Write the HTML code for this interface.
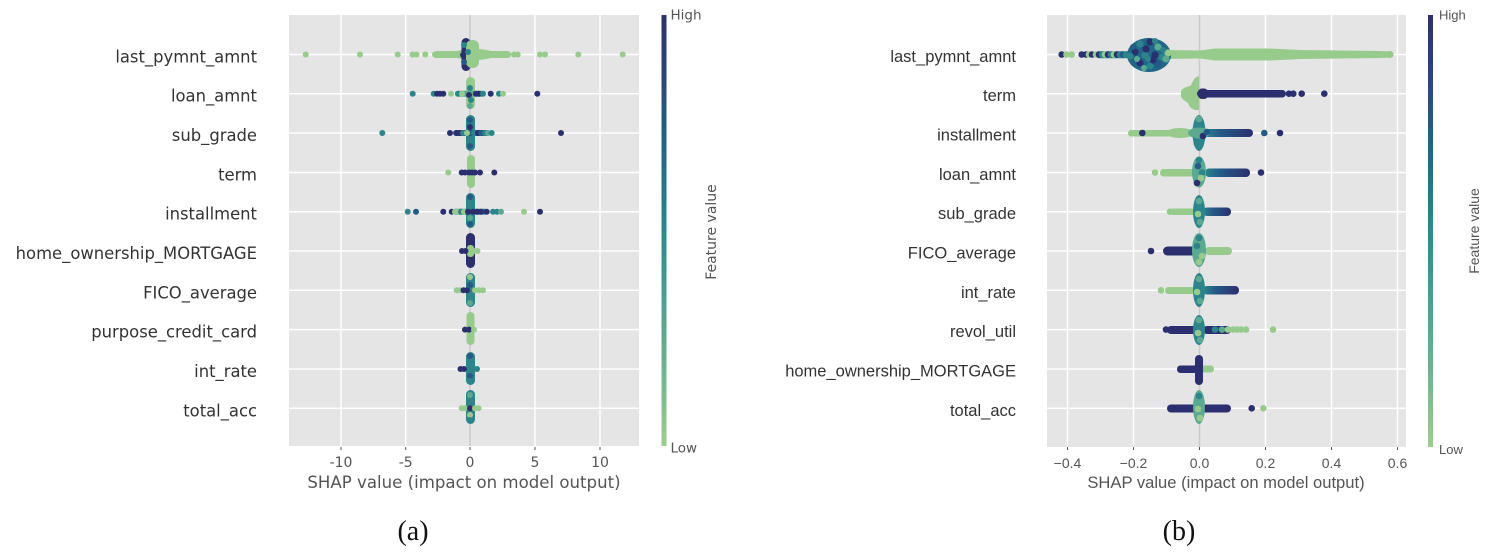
<!DOCTYPE html>
<html><head><meta charset="utf-8"><style>
html,body{margin:0;padding:0;background:#fff;}
svg{display:block;}
.yl{font-family:"DejaVu Sans",sans-serif;font-size:16.4px;fill:#333;text-anchor:end;}
.yr{font-family:"Liberation Sans",sans-serif;font-size:16.5px;fill:#333;text-anchor:end;}
.tl{font-family:"DejaVu Sans",sans-serif;font-size:14px;fill:#555;text-anchor:middle;}
.tr{font-family:"Liberation Sans",sans-serif;font-size:14px;fill:#555;text-anchor:middle;}
.cap{font-family:"Liberation Serif",serif;font-size:28px;fill:#111;text-anchor:middle;}
</style></head><body>
<svg width="1497" height="556" viewBox="0 0 1497 556" xmlns="http://www.w3.org/2000/svg">
<defs>
<linearGradient id="cb" x1="0" y1="0" x2="0" y2="1">
<stop offset="0" stop-color="#2c2f70"/><stop offset="0.15" stop-color="#2a4682"/><stop offset="0.31" stop-color="#1f6687"/><stop offset="0.5" stop-color="#2a8a8c"/><stop offset="0.66" stop-color="#4ba090"/><stop offset="0.85" stop-color="#73b88e"/><stop offset="1" stop-color="#9ccf8b"/>
</linearGradient>
<linearGradient id="bn" x1="0" y1="0" x2="1" y2="0"><stop offset="0" stop-color="#2b868c"/><stop offset="0.35" stop-color="#245a87"/><stop offset="1" stop-color="#2b2f6f"/></linearGradient>
</defs>
<rect width="1497" height="556" fill="#fff"/>

<!-- LEFT PLOT -->
<rect x="289" y="15" width="350" height="431" fill="#e5e5e5"/>
<g stroke="#fff" stroke-width="1.5">
<line x1="341" y1="15" x2="341" y2="446"/><line x1="405.7" y1="15" x2="405.7" y2="446"/><line x1="535" y1="15" x2="535" y2="446"/><line x1="600" y1="15" x2="600" y2="446"/>
<line x1="289" y1="54.5" x2="639" y2="54.5"/><line x1="289" y1="93.7" x2="639" y2="93.7"/><line x1="289" y1="133" x2="639" y2="133"/><line x1="289" y1="172.5" x2="639" y2="172.5"/><line x1="289" y1="211.7" x2="639" y2="211.7"/><line x1="289" y1="251" x2="639" y2="251"/><line x1="289" y1="290.3" x2="639" y2="290.3"/><line x1="289" y1="329.6" x2="639" y2="329.6"/><line x1="289" y1="369" x2="639" y2="369"/><line x1="289" y1="408.3" x2="639" y2="408.3"/>
</g>
<line x1="470" y1="15" x2="470" y2="446" stroke="#cbcbcb" stroke-width="1.6"/>
<g stroke="#555" stroke-width="1"><line x1="341" y1="447" x2="341" y2="450"/><line x1="405.7" y1="447" x2="405.7" y2="450"/><line x1="470" y1="447" x2="470" y2="450"/><line x1="535" y1="447" x2="535" y2="450"/><line x1="600" y1="447" x2="600" y2="450"/></g>

<!-- row1 -->
<rect x="433" y="51" width="78" height="7" rx="3.5" fill="#96cb8c"/>
<ellipse cx="474" cy="54.5" rx="22" ry="5.5" fill="#96cb8c"/>
<rect x="461.5" y="38" width="9" height="33" rx="4.5" fill="#2b2f6f"/>
<rect x="466" y="40" width="13" height="28" rx="6" fill="#96cb8c"/>
<circle cx="464" cy="45" r="3" fill="#2b868c"/><circle cx="464" cy="62" r="3" fill="#245a87"/><circle cx="468" cy="52" r="3" fill="#2b868c"/><circle cx="463" cy="55" r="3" fill="#2b2f6f"/>
<g fill="#96cb8c">
<circle cx="305.7" cy="54.5" r="3"/><circle cx="360" cy="54.5" r="3"/><circle cx="397.7" cy="54.5" r="3"/><circle cx="412.5" cy="54.5" r="3"/><circle cx="416.5" cy="54.5" r="3"/><circle cx="425.3" cy="54.5" r="3"/><circle cx="435" cy="54.5" r="3"/><circle cx="514" cy="54.5" r="3"/><circle cx="517.7" cy="54.5" r="3"/><circle cx="540" cy="54.5" r="3"/><circle cx="545" cy="54.5" r="3"/><circle cx="578.3" cy="54.5" r="3"/><circle cx="622.7" cy="54.5" r="3"/>
</g>
<!-- row2 -->
<rect x="466" y="77" width="9" height="32" rx="4.5" fill="#96cb8c"/>
<rect x="455" y="90.7" width="30" height="6" rx="3" fill="#5aa990"/>
<circle cx="470" cy="88" r="3" fill="#2b868c"/><circle cx="469" cy="95" r="3" fill="#2b2f6f"/><circle cx="471" cy="100" r="3" fill="#2b868c"/><circle cx="470" cy="106" r="3" fill="#5aa990"/>
<circle cx="412.7" cy="93.7" r="3" fill="#2b868c"/><circle cx="433.7" cy="93.7" r="3" fill="#2b868c"/><circle cx="437" cy="93.7" r="3" fill="#2b2f6f"/><circle cx="440" cy="93.7" r="3" fill="#2b2f6f"/><circle cx="443.3" cy="93.7" r="3" fill="#2b2f6f"/><circle cx="451" cy="93.7" r="3" fill="#96cb8c"/><circle cx="458" cy="93.7" r="3" fill="#2b868c"/><circle cx="462" cy="93.7" r="3" fill="#96cb8c"/><circle cx="476" cy="93.7" r="3" fill="#2b2f6f"/><circle cx="479" cy="93.7" r="3" fill="#2b2f6f"/><circle cx="483" cy="93.7" r="3" fill="#2b868c"/><circle cx="490.7" cy="93.7" r="3" fill="#2b2f6f"/><circle cx="499" cy="93.7" r="3" fill="#2b868c"/><circle cx="503" cy="93.7" r="3" fill="#96cb8c"/><circle cx="537.3" cy="93.7" r="3" fill="#2b2f6f"/>
<!-- row3 -->
<rect x="466" y="115" width="9" height="36" rx="4.5" fill="#2b868c"/>
<rect x="453" y="130" width="36" height="6" rx="3" fill="#245a87"/>
<circle cx="470" cy="120" r="3" fill="#245a87"/><circle cx="470" cy="127" r="3" fill="#2b2f6f"/><circle cx="470" cy="140" r="3" fill="#2b868c"/><circle cx="470" cy="146" r="3" fill="#245a87"/>
<circle cx="456.7" cy="133" r="3" fill="#2b2f6f"/><circle cx="460" cy="133" r="3" fill="#2b2f6f"/><circle cx="463" cy="133" r="3" fill="#2b868c"/><circle cx="467" cy="133" r="3" fill="#96cb8c"/><circle cx="474" cy="133" r="3" fill="#2b868c"/><circle cx="478" cy="133" r="3" fill="#2b2f6f"/><circle cx="481" cy="133" r="3" fill="#245a87"/><circle cx="485" cy="133" r="3" fill="#2b868c"/><circle cx="488" cy="133" r="3" fill="#5aa990"/>
<circle cx="382.3" cy="133" r="3" fill="#2b868c"/><circle cx="450" cy="133" r="3" fill="#2b2f6f"/><circle cx="491.7" cy="133" r="3" fill="#2b868c"/><circle cx="561" cy="133" r="3" fill="#2b2f6f"/>
<!-- row4 -->
<rect x="467" y="155" width="8" height="33" rx="4" fill="#96cb8c"/>
<circle cx="448.3" cy="172.5" r="3" fill="#96cb8c"/><circle cx="461.7" cy="172.5" r="3" fill="#2b2f6f"/><circle cx="465" cy="172.5" r="3" fill="#2b2f6f"/><circle cx="469" cy="172.5" r="3" fill="#2b2f6f"/><circle cx="472" cy="172.5" r="3" fill="#2b2f6f"/><circle cx="475" cy="172.5" r="3" fill="#2b2f6f"/><circle cx="480" cy="172.5" r="3" fill="#2b2f6f"/><circle cx="494.3" cy="172.5" r="3" fill="#2b2f6f"/>
<!-- row5 -->
<rect x="466" y="193" width="9" height="35" rx="4.5" fill="#2b868c"/>
<rect x="452" y="208.7" width="36" height="6" rx="3" fill="#2b868c"/>
<circle cx="470" cy="197" r="3" fill="#245a87"/><circle cx="470" cy="205" r="3" fill="#2b868c"/><circle cx="470" cy="218" r="3" fill="#5aa990"/><circle cx="470" cy="224" r="3" fill="#245a87"/>
<circle cx="407.7" cy="211.7" r="3" fill="#2b868c"/><circle cx="416" cy="211.7" r="3" fill="#245a87"/><circle cx="443.3" cy="211.7" r="3" fill="#2b2f6f"/><circle cx="451.7" cy="211.7" r="3" fill="#2b2f6f"/><circle cx="455" cy="211.7" r="3" fill="#96cb8c"/><circle cx="458" cy="211.7" r="3" fill="#96cb8c"/><circle cx="461" cy="211.7" r="3" fill="#2b868c"/><circle cx="464" cy="211.7" r="3" fill="#96cb8c"/><circle cx="468" cy="211.7" r="3" fill="#2b2f6f"/><circle cx="473" cy="211.7" r="3" fill="#2b2f6f"/><circle cx="477" cy="211.7" r="3" fill="#2b2f6f"/><circle cx="481" cy="211.7" r="3" fill="#2b2f6f"/><circle cx="486.7" cy="211.7" r="3" fill="#2b2f6f"/><circle cx="493" cy="211.7" r="3" fill="#2b868c"/><circle cx="497" cy="211.7" r="3" fill="#2b868c"/><circle cx="501" cy="211.7" r="3" fill="#5aa990"/><circle cx="524" cy="211.7" r="3" fill="#96cb8c"/><circle cx="540" cy="211.7" r="3" fill="#2b2f6f"/>
<!-- row6 -->
<rect x="466" y="233" width="9" height="35" rx="4.5" fill="#2b2f6f"/>
<rect x="467" y="245" width="7" height="12" rx="3" fill="#96cb8c"/>
<circle cx="462" cy="251" r="3" fill="#2b2f6f"/><circle cx="465.5" cy="251" r="3" fill="#2b2f6f"/><circle cx="474" cy="251" r="3" fill="#96cb8c"/><circle cx="477.5" cy="251" r="3" fill="#96cb8c"/>
<!-- row7 -->
<rect x="466" y="273" width="9" height="34" rx="4.5" fill="#2b868c"/>
<circle cx="470" cy="277" r="3" fill="#96cb8c"/><circle cx="470" cy="285" r="3" fill="#245a87"/><circle cx="470" cy="298" r="3" fill="#2b868c"/><circle cx="470" cy="303" r="3" fill="#5aa990"/>
<circle cx="456.7" cy="290.3" r="3" fill="#96cb8c"/><circle cx="460" cy="290.3" r="3" fill="#96cb8c"/><circle cx="463.5" cy="290.3" r="3" fill="#2b2f6f"/><circle cx="467" cy="290.3" r="3" fill="#2b2f6f"/><circle cx="475" cy="290.3" r="3" fill="#96cb8c"/><circle cx="479" cy="290.3" r="3" fill="#96cb8c"/><circle cx="483" cy="290.3" r="3" fill="#96cb8c"/>
<!-- row8 -->
<rect x="466.5" y="312" width="8" height="33" rx="4" fill="#96cb8c"/>
<circle cx="465" cy="329.6" r="3" fill="#2b2f6f"/><circle cx="469" cy="329.6" r="3" fill="#2b2f6f"/><circle cx="474" cy="329.6" r="3" fill="#96cb8c"/>
<!-- row9 -->
<rect x="466" y="352" width="9" height="33" rx="4.5" fill="#2b868c"/>
<circle cx="470" cy="356" r="3" fill="#245a87"/><circle cx="470" cy="364" r="3" fill="#2b868c"/><circle cx="470" cy="376" r="3" fill="#245a87"/><circle cx="470" cy="381" r="3" fill="#2b868c"/>
<circle cx="460.5" cy="369" r="3" fill="#2b2f6f"/><circle cx="464" cy="369" r="3" fill="#2b2f6f"/><circle cx="474" cy="369" r="3" fill="#2b868c"/><circle cx="477" cy="369" r="3" fill="#2b868c"/>
<!-- row10 -->
<rect x="466" y="390" width="9" height="34" rx="4.5" fill="#2b868c"/>
<circle cx="470" cy="395" r="3" fill="#5aa990"/><circle cx="470" cy="402" r="3" fill="#2b868c"/><circle cx="470" cy="415" r="3" fill="#96cb8c"/><circle cx="470" cy="420" r="3" fill="#2b868c"/>
<circle cx="461.7" cy="408.3" r="3" fill="#96cb8c"/><circle cx="465" cy="408.3" r="3" fill="#96cb8c"/><circle cx="470" cy="408.3" r="3" fill="#2b2f6f"/><circle cx="475" cy="408.3" r="3" fill="#96cb8c"/><circle cx="478.5" cy="408.3" r="3" fill="#96cb8c"/>

<!-- left labels -->
<text class="yl" x="257" y="62.5">last_pymnt_amnt</text>
<text class="yl" x="257" y="101.7">loan_amnt</text>
<text class="yl" x="257" y="141">sub_grade</text>
<text class="yl" x="257" y="180.5">term</text>
<text class="yl" x="257" y="219.7">installment</text>
<text class="yl" x="257" y="259">home_ownership_MORTGAGE</text>
<text class="yl" x="257" y="298.3">FICO_average</text>
<text class="yl" x="257" y="337.6">purpose_credit_card</text>
<text class="yl" x="257" y="377">int_rate</text>
<text class="yl" x="257" y="416.3">total_acc</text>
<text class="tl" x="341" y="467">-10</text><text class="tl" x="405.7" y="467">-5</text><text class="tl" x="470" y="467">0</text><text class="tl" x="535" y="467">5</text><text class="tl" x="600" y="467">10</text>
<text x="464" y="488" style="font-family:'DejaVu Sans',sans-serif;font-size:16.6px;fill:#555;text-anchor:middle">SHAP value (impact on model output)</text>
<rect x="661.5" y="15" width="5" height="431" fill="url(#cb)"/>
<text x="670.5" y="19.5" style="font-family:'DejaVu Sans',sans-serif;font-size:13.5px;fill:#555">High</text>
<text x="670.5" y="452.5" style="font-family:'DejaVu Sans',sans-serif;font-size:13.5px;fill:#555">Low</text>
<text transform="translate(716,232) rotate(-90)" style="font-family:'DejaVu Sans',sans-serif;font-size:14px;fill:#555;text-anchor:middle">Feature value</text>
<text class="cap" x="413" y="540">(a)</text>

<!-- RIGHT PLOT -->
<rect x="1047" y="15" width="359" height="432" fill="#e5e5e5"/>
<g stroke="#fff" stroke-width="1.5">
<line x1="1067.5" y1="15" x2="1067.5" y2="447"/><line x1="1133.5" y1="15" x2="1133.5" y2="447"/><line x1="1265.5" y1="15" x2="1265.5" y2="447"/><line x1="1331.5" y1="15" x2="1331.5" y2="447"/><line x1="1397.5" y1="15" x2="1397.5" y2="447"/>
<line x1="1047" y1="54.5" x2="1406" y2="54.5"/><line x1="1047" y1="93.7" x2="1406" y2="93.7"/><line x1="1047" y1="133" x2="1406" y2="133"/><line x1="1047" y1="172.5" x2="1406" y2="172.5"/><line x1="1047" y1="211.7" x2="1406" y2="211.7"/><line x1="1047" y1="251" x2="1406" y2="251"/><line x1="1047" y1="290.3" x2="1406" y2="290.3"/><line x1="1047" y1="329.6" x2="1406" y2="329.6"/><line x1="1047" y1="369" x2="1406" y2="369"/><line x1="1047" y1="408.3" x2="1406" y2="408.3"/>
</g>
<line x1="1199.5" y1="15" x2="1199.5" y2="447" stroke="#cbcbcb" stroke-width="1.6"/>
<g stroke="#555" stroke-width="1"><line x1="1067.5" y1="447" x2="1067.5" y2="450"/><line x1="1133.5" y1="447" x2="1133.5" y2="450"/><line x1="1199.5" y1="447" x2="1199.5" y2="450"/><line x1="1265.5" y1="447" x2="1265.5" y2="450"/><line x1="1331.5" y1="447" x2="1331.5" y2="450"/><line x1="1397.5" y1="447" x2="1397.5" y2="450"/></g>

<!-- r row1 -->
<path d="M1163,50 L1200,50.5 L1215,48.5 L1270,48.5 L1300,50 L1380,51 L1392,51.5 L1392,57.5 L1380,58 L1300,59 L1270,60.5 L1215,60.5 L1200,58.5 L1163,59 Z" fill="#96cb8c"/>
<circle cx="1390" cy="54.5" r="3.6" fill="#96cb8c"/>
<rect x="1095" y="51.2" width="36" height="7" rx="3.5" fill="#2b868c"/>
<circle cx="1061.7" cy="54.5" r="3.3" fill="#2b2f6f"/><circle cx="1066.5" cy="54.5" r="3.3" fill="#96cb8c"/><circle cx="1071.7" cy="54.5" r="3.3" fill="#96cb8c"/><circle cx="1081.7" cy="54.5" r="3.3" fill="#2b2f6f"/><circle cx="1086" cy="54.5" r="3.3" fill="#2b2f6f"/><circle cx="1089" cy="54.5" r="3.3" fill="#96cb8c"/><circle cx="1092" cy="54.5" r="3.3" fill="#2b2f6f"/><circle cx="1096" cy="54.5" r="3.3" fill="#96cb8c"/><circle cx="1099" cy="54.5" r="3.3" fill="#2b2f6f"/><circle cx="1102" cy="54.5" r="3.3" fill="#2b868c"/><circle cx="1105" cy="54.5" r="3.3" fill="#96cb8c"/><circle cx="1108" cy="54.5" r="3.3" fill="#2b2f6f"/><circle cx="1111" cy="54.5" r="3.3" fill="#2b868c"/><circle cx="1114" cy="54.5" r="3.3" fill="#96cb8c"/><circle cx="1117" cy="54.5" r="3.3" fill="#2b2f6f"/><circle cx="1120" cy="54.5" r="3.3" fill="#2b868c"/><circle cx="1123" cy="54.5" r="3.3" fill="#245a87"/><circle cx="1126" cy="54.5" r="3.3" fill="#2b868c"/>
<ellipse cx="1149" cy="55" rx="22" ry="17" fill="#1f6687"/>
<circle cx="1140" cy="44" r="3.6" fill="#2b868c"/><circle cx="1150" cy="42" r="3.6" fill="#2b2f6f"/><circle cx="1158" cy="47" r="3.6" fill="#5aa990"/><circle cx="1135" cy="52" r="3.6" fill="#2b2f6f"/><circle cx="1145" cy="55" r="3.6" fill="#2b868c"/><circle cx="1155" cy="55" r="3.6" fill="#2b2f6f"/><circle cx="1162" cy="57" r="3.6" fill="#2b868c"/><circle cx="1140" cy="63" r="3.6" fill="#2b2f6f"/><circle cx="1150" cy="66" r="3.6" fill="#2b868c"/><circle cx="1158" cy="64" r="3.6" fill="#245a87"/><circle cx="1130" cy="56" r="3.6" fill="#2b868c"/><circle cx="1146" cy="49" r="3.6" fill="#2b2f6f"/><circle cx="1153" cy="60" r="3.6" fill="#2b2f6f"/><circle cx="1168" cy="53" r="3.6" fill="#96cb8c"/><circle cx="1166" cy="59" r="3.6" fill="#5aa990"/>
<circle cx="1137" cy="59" r="3" fill="#5aa990"/><circle cx="1155" cy="41" r="3" fill="#2b868c"/><circle cx="1144" cy="68" r="3" fill="#5aa990"/><circle cx="1163" cy="50" r="3" fill="#2b868c"/><circle cx="1148" cy="59" r="3" fill="#2b868c"/><circle cx="1133" cy="47" r="3" fill="#245a87"/>
<!-- r row2 -->
<path d="M1199,76 C1192,78 1193,84 1190,86 C1184,87 1180,90 1181,94 C1180,99 1186,101 1188,103 C1189,107 1193,111 1199,110 Z" fill="#96cb8c"/>
<rect x="1197" y="90" width="89" height="7.5" rx="3.7" fill="#2b2f6f"/>
<rect x="1198" y="88.5" width="10" height="10.5" rx="4" fill="#2b2f6f"/>
<circle cx="1289" cy="93.7" r="3.3" fill="#2b2f6f"/><circle cx="1293.3" cy="93.7" r="3.3" fill="#2b2f6f"/><circle cx="1301.7" cy="93.7" r="3.3" fill="#2b2f6f"/><circle cx="1324.3" cy="93.7" r="3.3" fill="#2b2f6f"/>
<!-- r row3 -->
<rect x="1128" y="130" width="66" height="6.5" rx="3.2" fill="#96cb8c"/>
<ellipse cx="1180" cy="133" rx="14" ry="5" fill="#96cb8c"/>
<circle cx="1142.3" cy="133" r="3.3" fill="#2b2f6f"/>
<rect x="1203" y="129" width="50" height="8" rx="4" fill="url(#bn)"/>
<ellipse cx="1199" cy="133" rx="6.5" ry="18" fill="#2b868c"/>
<ellipse cx="1199" cy="133" rx="11" ry="5.5" fill="#5aa990"/>
<circle cx="1199" cy="119" r="3.3" fill="#5aa990"/><circle cx="1203" cy="136" r="3.3" fill="#2b2f6f"/><circle cx="1197" cy="144" r="3.3" fill="#2b868c"/><circle cx="1207" cy="132" r="3.3" fill="#245a87"/>
<circle cx="1264.3" cy="133" r="3.3" fill="#245a87"/><circle cx="1280" cy="133" r="3.3" fill="#2b2f6f"/>
<!-- r row4 -->
<circle cx="1155" cy="172.5" r="3.3" fill="#96cb8c"/>
<rect x="1160" y="169" width="34" height="7.5" rx="3.5" fill="#96cb8c"/>
<rect x="1205" y="168.5" width="45" height="8.5" rx="4" fill="url(#bn)"/>
<ellipse cx="1199" cy="172" rx="7" ry="15.5" fill="#5aa990"/>
<circle cx="1199" cy="160" r="3.3" fill="#2b868c"/><circle cx="1198" cy="166" r="3.3" fill="#245a87"/><circle cx="1202" cy="172.5" r="3.3" fill="#2b868c"/><circle cx="1201" cy="178" r="3.3" fill="#96cb8c"/><circle cx="1197" cy="183" r="3.3" fill="#2b2f6f"/>
<circle cx="1261" cy="172.5" r="3.3" fill="#2b2f6f"/>
<!-- r row5 -->
<circle cx="1170" cy="211.7" r="3.3" fill="#96cb8c"/>
<rect x="1170" y="208.5" width="25" height="6.5" rx="3.2" fill="#96cb8c"/>
<rect x="1203" y="207.5" width="28" height="8.5" rx="4" fill="url(#bn)"/>
<ellipse cx="1199" cy="211.5" rx="6" ry="16.5" fill="#2b868c"/>
<circle cx="1199" cy="201" r="3.3" fill="#5aa990"/><circle cx="1198" cy="214" r="3.3" fill="#96cb8c"/><circle cx="1200" cy="222" r="3.3" fill="#5aa990"/>
<!-- r row6 -->
<circle cx="1151" cy="251" r="3.3" fill="#2b2f6f"/>
<rect x="1163" y="246.5" width="35" height="9" rx="4.5" fill="#2b2f6f"/>
<rect x="1205" y="247" width="27" height="8" rx="4" fill="#96cb8c"/>
<ellipse cx="1199" cy="250" rx="7" ry="17" fill="#5aa990"/>
<circle cx="1199" cy="238" r="3.3" fill="#2b868c"/><circle cx="1197" cy="246" r="3.3" fill="#2b868c"/><circle cx="1202" cy="256" r="3.3" fill="#96cb8c"/><circle cx="1199" cy="262" r="3.3" fill="#96cb8c"/>
<!-- r row7 -->
<circle cx="1161" cy="290.3" r="3.3" fill="#96cb8c"/>
<rect x="1165" y="287" width="30" height="7" rx="3.5" fill="#96cb8c"/>
<rect x="1203" y="286" width="36" height="8.5" rx="4" fill="url(#bn)"/>
<ellipse cx="1199" cy="290" rx="6" ry="17" fill="#2b868c"/>
<circle cx="1199" cy="279" r="3.3" fill="#5aa990"/><circle cx="1197" cy="292" r="3.3" fill="#96cb8c"/><circle cx="1200" cy="301" r="3.3" fill="#5aa990"/>
<!-- r row8 -->
<circle cx="1166" cy="329.6" r="3.3" fill="#2b2f6f"/>
<rect x="1167" y="326" width="32" height="8" rx="4" fill="#2b2f6f"/>
<rect x="1203" y="326" width="28" height="8" rx="4" fill="#2b2f6f"/>
<circle cx="1215" cy="329.6" r="3.3" fill="#2b868c"/><circle cx="1222" cy="329.6" r="3.3" fill="#5aa990"/><circle cx="1228" cy="329.6" r="3.3" fill="#96cb8c"/><circle cx="1233" cy="329.6" r="3.3" fill="#96cb8c"/><circle cx="1237" cy="329.6" r="3.3" fill="#96cb8c"/><circle cx="1241" cy="329.6" r="3.3" fill="#96cb8c"/><circle cx="1246" cy="329.6" r="3.3" fill="#96cb8c"/><circle cx="1273" cy="329.6" r="3.3" fill="#96cb8c"/>
<ellipse cx="1199" cy="330" rx="6" ry="15" fill="#2b868c"/>
<circle cx="1199" cy="320" r="3.3" fill="#5aa990"/><circle cx="1198" cy="333" r="3.3" fill="#96cb8c"/><circle cx="1200" cy="340" r="3.3" fill="#5aa990"/>
<!-- r row9 -->
<rect x="1177" y="365.5" width="24" height="7.5" rx="3.5" fill="#2b2f6f"/>
<rect x="1200" y="365.5" width="14" height="7" rx="3.5" fill="#96cb8c"/>
<rect x="1195" y="355" width="8" height="30" rx="4" fill="#2b2f6f"/>
<!-- r row10 -->
<rect x="1167" y="404.5" width="64" height="8" rx="4" fill="#2b2f6f"/>
<ellipse cx="1199" cy="407" rx="6" ry="17" fill="#5aa990"/>
<circle cx="1199" cy="396" r="3.3" fill="#2b868c"/><circle cx="1198" cy="409" r="3.3" fill="#96cb8c"/><circle cx="1200" cy="418" r="3.3" fill="#96cb8c"/>
<circle cx="1251.7" cy="408.3" r="3.3" fill="#2b2f6f"/><circle cx="1263.3" cy="408.3" r="3.3" fill="#96cb8c"/>

<!-- right labels -->
<text class="yr" x="1016" y="62">last_pymnt_amnt</text>
<text class="yr" x="1016" y="101.2">term</text>
<text class="yr" x="1016" y="140.5">installment</text>
<text class="yr" x="1016" y="180">loan_amnt</text>
<text class="yr" x="1016" y="219.2">sub_grade</text>
<text class="yr" x="1016" y="258.5">FICO_average</text>
<text class="yr" x="1016" y="297.8">int_rate</text>
<text class="yr" x="1016" y="337.1">revol_util</text>
<text class="yr" x="1016" y="376.5">home_ownership_MORTGAGE</text>
<text class="yr" x="1016" y="415.8">total_acc</text>
<text class="tr" x="1067.5" y="468">−0.4</text><text class="tr" x="1133.5" y="468">−0.2</text><text class="tr" x="1199.5" y="468">0.0</text><text class="tr" x="1265.5" y="468">0.2</text><text class="tr" x="1331.5" y="468">0.4</text><text class="tr" x="1397.5" y="468">0.6</text>
<text x="1226" y="488" style="font-family:'Liberation Sans',sans-serif;font-size:16.6px;fill:#555;text-anchor:middle">SHAP value (impact on model output)</text>
<rect x="1428" y="15" width="5" height="432" fill="url(#cb)"/>
<text x="1439" y="19.5" style="font-family:'Liberation Sans',sans-serif;font-size:13px;fill:#555">High</text>
<text x="1439" y="454" style="font-family:'Liberation Sans',sans-serif;font-size:13px;fill:#555">Low</text>
<text transform="translate(1479,231) rotate(-90)" style="font-family:'Liberation Sans',sans-serif;font-size:14px;fill:#555;text-anchor:middle">Feature value</text>
<text class="cap" x="1179" y="540">(b)</text>
</svg>
</body></html>
